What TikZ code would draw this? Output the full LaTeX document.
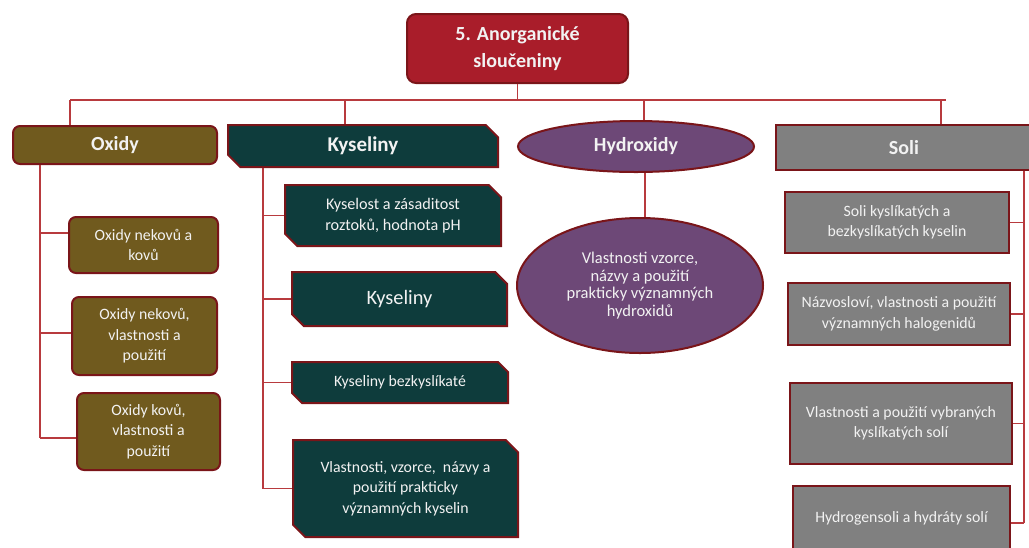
\documentclass[tikz,border=0pt]{standalone}
\usepackage{fontspec}
\setmainfont{Carlito}
\usetikzlibrary{shapes.misc,shapes.geometric}
\definecolor{mainred}{HTML}{A91D2A}
\definecolor{maroon}{HTML}{7A1519}
\definecolor{linered}{HTML}{B83A3E}
\definecolor{olivefill}{HTML}{705A1E}
\definecolor{kysfill}{HTML}{0E3C3C}
\definecolor{hydfill}{HTML}{6D4877}
\definecolor{solifill}{HTML}{808080}
\definecolor{txt}{HTML}{F2F2F2}
\tikzset{
  box/.style={draw=maroon, line width=2pt, text=txt, align=center, inner sep=0pt,
    font=\fontsize{15.8}{20.5}\selectfont},
  hdr/.style={font=\bfseries\fontsize{20}{22}\selectfont},
  oxbox/.style={box, fill=olivefill, rounded corners=7pt},
  kybox/.style={box, fill=kysfill, chamfered rectangle,
    chamfered rectangle corners={north east,south west}, chamfered rectangle xsep=9pt},
  hybox/.style={box, fill=hydfill, ellipse},
  sobox/.style={box, fill=solifill, rectangle, line width=2.5pt},
  conn/.style={draw=linered, line width=1.3pt},
}
\begin{document}
\begin{tikzpicture}[x=1pt,y=-1pt]
\useasboundingbox (0,0) rectangle (1029,547);
\clip (0,0) rectangle (1029,547);
% coordinates of the bus and trunks
\coordinate (dOx) at (70,100);
\coordinate (dKy) at (345,100);
\coordinate (dHy) at (644,100);
\coordinate (dSo) at (941,100);
\coordinate (busR) at (946,100);
\coordinate (oB) at (40,438);
\coordinate (kB) at (263,488.5);
\coordinate (sB) at (1024,523);

% main
\node[box, fill=mainred, rounded corners=9pt, minimum width=221pt, minimum height=69pt,
  font=\bfseries\fontsize{20}{27}\selectfont] (main) at (517.5,48.5) {\raisebox{-2pt}{5. Anorganické}\\\raisebox{-2pt}{sloučeniny}};

% headers
\node[oxbox, hdr, minimum width=204pt, minimum height=38pt] (ox) at (115,145) {Oxidy};
\node[kybox, hdr, font=\bfseries\fontsize{21}{22}\selectfont, minimum width=270pt, minimum height=42pt] (ky) at (363,146) {Kyseliny};
\node[hybox, hdr, minimum width=236pt, minimum height=51pt] (hy) at (636,146.5) {Hydroxidy};
\node[sobox, hdr, minimum width=256pt, minimum height=45pt] (so) at (904,147.5) {Soli};

% oxidy children
\node[oxbox, minimum width=149pt, minimum height=56pt] (o1) at (143.5,245) {Oxidy nekovů a\\kovů};
\node[oxbox, minimum width=145pt, minimum height=78pt] (o2) at (144.5,336) {Oxidy nekovů,\\vlastnosti a\\použití};
\node[oxbox, minimum width=143pt, minimum height=77pt] (o3) at (148.5,431.5) {Oxidy kovů,\\vlastnosti a\\použití};

% kyseliny children
\node[kybox, minimum width=216pt, minimum height=61pt, font=\fontsize{16.2}{20.5}\selectfont] (k1) at (393,215.5) {Kyselost a zásaditost\\roztoků, hodnota pH};
\node[kybox, minimum width=215pt, minimum height=54pt, font=\fontsize{20.4}{22}\selectfont] (k2) at (399.5,299) {Kyseliny};
\node[kybox, minimum width=216pt, minimum height=41pt] (k3) at (400,382.5) {Kyseliny bezkyslíkaté};
\node[kybox, minimum width=225pt, minimum height=97pt] (k4) at (405.5,488.5) {Vlastnosti, vzorce,\ \ názvy a\\použití prakticky\\významných kyselin};

% hydroxidy child
\node[hybox, minimum width=246pt, minimum height=135pt, font=\fontsize{16.5}{17.5}\selectfont] (h1) at (640,285.5) {Vlastnosti vzorce,\\názvy a použití\\prakticky významných\\hydroxidů};

% soli children
\node[sobox, minimum width=224pt, minimum height=61pt] (s1) at (897,222.5) {Soli kyslíkatých a\\bezkyslíkatých kyselin};
\node[sobox, minimum width=222pt, minimum height=62pt] (s2) at (899,314) {Názvosloví, vlastnosti a použití\\významných halogenidů};
\node[sobox, minimum width=222pt, minimum height=81pt] (s3) at (901,423.5) {Vlastnosti a použití vybraných\\kyslíkatých solí};
\node[sobox, minimum width=217pt, minimum height=74pt] (s4) at (901.5,523) {\raisebox{11pt}{Hydrogensoli a hydráty solí}};

% bus
\draw[conn] (dOx) -- (busR);
\draw[conn] (main.south) -- (main.south |- dOx);
\draw[conn] (dOx) -- (dOx |- ox.north);
\draw[conn] (dKy) -- (dKy |- ky.north);
\draw[conn] (dHy) -- (dHy |- hy.north);
\draw[conn] (dSo) -- (dSo |- so.north);

% oxidy trunk
\draw[conn] (ox.south -| oB) -- (oB);
\draw[conn] ([yshift=12pt]o1.west) -- ([yshift=12pt]o1.west -| oB);
\draw[conn] ([yshift=3pt]o2.west) -- ([yshift=3pt]o2.west -| oB);
\draw[conn] (oB) -- (oB -| o3.west);

% kyseliny trunk
\draw[conn] (ky.south -| kB) -- (kB);
\draw[conn] (k1.west) -- (k1.west -| kB);
\draw[conn] (k2.west) -- (k2.west -| kB);
\draw[conn] (k3.west) -- (k3.west -| kB);
\draw[conn] (k4.west) -- (kB);

% hydroxidy
\draw[conn] ([xshift=5pt]h1.north) -- ([xshift=5pt]h1.north |- hy.south);

% soli trunk
\draw[conn] (so.south -| sB) -- (sB);
\draw[conn] (s1.east) -- (s1.east -| sB);
\draw[conn] (s2.east) -- (s2.east -| sB);
\draw[conn] (s3.east) -- (s3.east -| sB);
\draw[conn] (s4.east) -- (sB);
\end{tikzpicture}
\end{document}
